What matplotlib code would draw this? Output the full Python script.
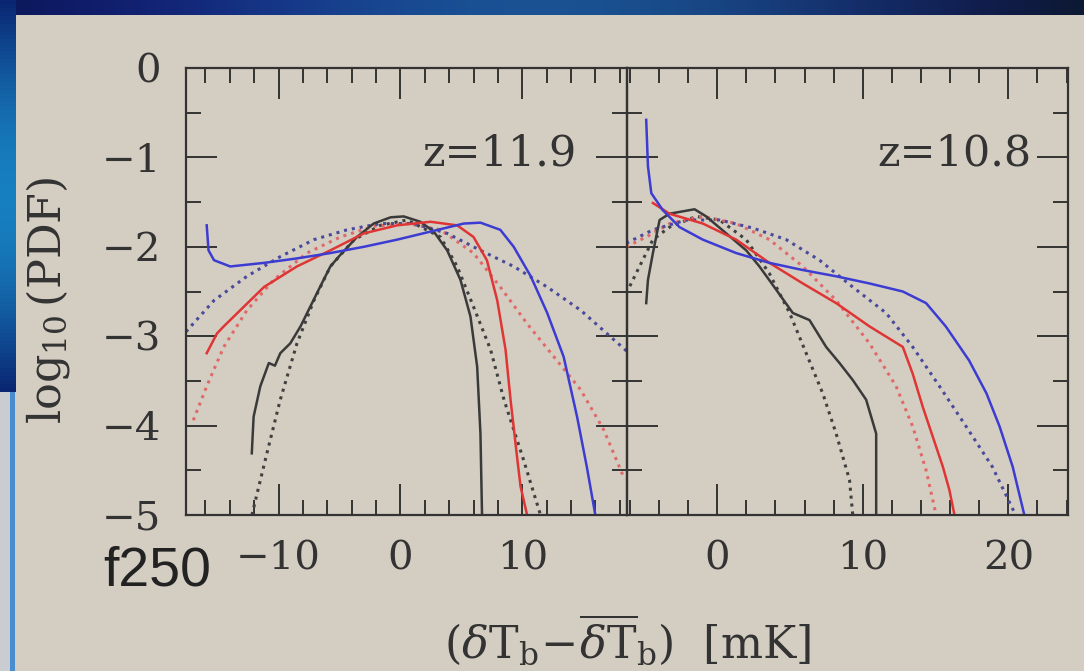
import numpy as np
import matplotlib
matplotlib.use('Agg')
import matplotlib.pyplot as plt
from matplotlib.ticker import MultipleLocator, FixedLocator

# ---- data (x in mK, y = log10 PDF) ----
# left panel, z = 11.9
l_black_x = [-12.2, -12.05, -11.5, -10.8, -10.3, -9.86, -9.04, -8.2, -7.4, -6.6, -5.75, -4.93, -3.56,
             -2.2, -0.8, 0.27, 1.64, 2.74, 3.84, 4.93, 5.75, 6.3, 6.57, 6.7]
l_black_y = [-4.31, -3.90, -3.56, -3.30, -3.33, -3.19, -3.08, -2.89, -2.67, -2.45, -2.22, -2.09, -1.89,
             -1.74, -1.67, -1.66, -1.72, -1.83, -2.04, -2.37, -2.78, -3.34, -4.09, -5.0]
l_black_dot_x = [-12.19, -10.96, -9.86, -8.49, -7.1, -5.75, -3.8, -1.64, 0.55, 3.29, 4.66, 6.0, 7.4,
                 8.5, 10.1, 11.5]
l_black_dot_y = [-5.0, -4.31, -3.71, -3.08, -2.6, -2.22, -1.92, -1.76, -1.70, -1.89, -2.22, -2.67, -3.15,
                 -3.71, -4.38, -5.0]
l_red_x = [-15.9, -15.06, -14.5, -13.15, -11.2, -8.5, -5.75, -3.0, -0.27, 2.47, 4.66, 6.0, 7.1,
           7.95, 8.63, 9.04, 9.6, 9.86, 10.4]
l_red_y = [-3.19, -2.97, -2.89, -2.71, -2.45, -2.22, -2.04, -1.85, -1.76, -1.72, -1.76, -1.89, -2.15,
           -2.60, -3.15, -3.71, -4.38, -4.68, -5.0]
l_red_dot_x = [-17.0, -15.9, -14.5, -12.6, -10.4, -7.67, -4.93, -2.19, 0.55, 3.29, 6.0, 8.2, 10.4,
               12.6, 14.8, 16.7, 18.4]
l_red_dot_y = [-3.94, -3.56, -3.12, -2.71, -2.37, -2.07, -1.89, -1.77, -1.74, -1.81, -2.07, -2.45, -2.86,
               -3.23, -3.60, -4.05, -4.6]
l_blue_x = [-15.9, -15.75, -15.3, -13.97, -11.2, -8.5, -5.75, -3.0, -0.27, 2.47, 5.2, 6.57, 8.2,
            9.3, 10.7, 12.05, 13.4, 14.5, 15.3, 16.0]
l_blue_y = [-1.76, -2.04, -2.15, -2.22, -2.18, -2.13, -2.07, -2.0, -1.92, -1.83, -1.74, -1.73, -1.81,
            -2.0, -2.33, -2.74, -3.23, -3.90, -4.46, -5.0]
l_blue_dot_x = [-17.6, -15.3, -12.6, -9.86, -7.1, -4.38, -1.64, 1.1, 3.84, 6.57, 9.3, 12.05, 14.8, 18.6]
l_blue_dot_y = [-2.95, -2.60, -2.33, -2.11, -1.92, -1.81, -1.74, -1.74, -1.85, -2.04, -2.22, -2.45,
                -2.71, -3.17]

# right panel, z = 10.8
r_black_x = [-4.88, -4.76, -4.42, -3.96, -3.28, -1.56, -0.76, 0.62, 1.99, 2.9, 4.05, 5.19, 6.34,
             7.48, 8.4, 9.31, 10.23, 10.92, 10.92]
r_black_y = [-2.63, -2.37, -2.07, -1.70, -1.63, -1.58, -1.66, -1.85, -2.04, -2.22, -2.48, -2.74, -2.82,
             -3.12, -3.30, -3.49, -3.71, -4.09, -5.0]
r_black_dot_x = [-6.25, -5.34, -4.42, -3.28, -1.44, 0.16, 1.99, 3.59, 4.97, 6.11, 7.25, 8.17, 9.09, 9.31]
r_black_dot_y = [-2.52, -2.22, -1.92, -1.78, -1.66, -1.70, -1.92, -2.30, -2.74, -3.19, -3.64, -4.09,
                 -4.61, -5.0]
r_red_x = [-4.42, -3.28, -0.99, 1.3, 3.59, 5.88, 8.17, 10.46, 12.75, 13.43, 14.12, 14.8, 15.5,
           15.95, 16.3]
r_red_y = [-1.51, -1.63, -1.74, -1.92, -2.18, -2.41, -2.63, -2.89, -3.12, -3.42, -3.79, -4.12, -4.46,
           -4.72, -5.0]
r_red_dot_x = [-6.25, -4.88, -3.28, -0.99, 1.3, 3.59, 5.88, 8.17, 10.46, 12.29, 13.43, 14.35, 15.04]
r_red_dot_y = [-2.0, -1.89, -1.74, -1.66, -1.74, -1.92, -2.22, -2.60, -3.08, -3.56, -4.01, -4.50, -5.0]
r_blue_x = [-4.88, -4.76, -4.53, -3.74, -2.59, -0.99, 1.3, 3.59, 5.88, 8.17, 10.46, 12.75, 14.35,
            15.7, 17.3, 18.5, 19.4, 20.3, 21.1]
r_blue_y = [-0.58, -1.10, -1.40, -1.59, -1.78, -1.92, -2.07, -2.18, -2.26, -2.33, -2.41, -2.50, -2.63,
            -2.89, -3.27, -3.64, -4.01, -4.46, -5.0]
r_blue_dot_x = [-6.25, -4.42, -2.13, 0.16, 2.44, 4.74, 7.03, 9.31, 11.6, 13.43, 15.27, 17.1, 18.9, 20.5]
r_blue_dot_y = [-1.96, -1.81, -1.70, -1.70, -1.79, -1.92, -2.15, -2.45, -2.74, -3.12, -3.56, -4.01,
                -4.46, -5.0]

panel_labels = ['z=11.9', 'z=10.8']
left_xticks = [-10, 0, 10]
right_xticks = [0, 10, 20]
yticks = [0, -1, -2, -3, -4, -5]

# colours
bg = '#d4cec2'
c_black = '#3a3a3a'
c_red = '#e03535'
c_blue = '#3c3cd2'
c_black_dot = '#404040'
c_red_dot = '#e06a6a'
c_blue_dot = '#4a4a9c'

W, H = 1084, 671
fig = plt.figure(figsize=(W / 100, H / 100), dpi=100)
fig.patch.set_facecolor(bg)

# slide decoration: blue top band and left strip
deco = fig.add_axes([0, 0, 1, 1], zorder=-5)
deco.set_xlim(0, W)
deco.set_ylim(H, 0)
deco.axis('off')
top = np.zeros((1, 200, 3))
tx = np.linspace(0, 1, 200)
top[0, :, 0] = 0.05 + 0.05 * np.sin(np.pi * tx)
top[0, :, 1] = 0.10 + 0.22 * np.sin(np.pi * tx) ** 2
top[0, :, 2] = 0.35 + 0.30 * np.sin(np.pi * tx) - 0.15 * tx
deco.imshow(top, extent=(0, W, 15, 0), aspect='auto')
side = np.zeros((100, 1, 3))
sy = np.linspace(0, 1, 100)
side[:, 0, 0] = 0.04 + 0.05 * np.sin(np.pi * sy)
side[:, 0, 1] = 0.15 + 0.35 * np.sin(np.pi * sy)
side[:, 0, 2] = 0.45 + 0.30 * np.sin(np.pi * sy)
deco.imshow(side, extent=(0, 16, 392, 0), aspect='auto')
deco.add_patch(plt.Rectangle((0, 392), 10, H - 392, color='#c9ccd0', lw=0))
deco.add_patch(plt.Rectangle((10, 392), 5, H - 392, color='#4a8cd0', lw=0))

plt.rcParams['mathtext.fontset'] = 'dejavuserif'

ax1 = fig.add_axes([186 / W, 1 - 515 / H, 441 / W, 447 / H])
ax2 = fig.add_axes([627 / W, 1 - 515 / H, 441 / W, 447 / H])

dot = (0, (1, 1.6))
lw = 1.8
ax1.plot(l_black_dot_x, l_black_dot_y, color=c_black_dot, ls=dot, lw=2.2)
ax1.plot(l_red_dot_x, l_red_dot_y, color=c_red_dot, ls=dot, lw=2.2)
ax1.plot(l_blue_dot_x, l_blue_dot_y, color=c_blue_dot, ls=dot, lw=2.2)
ax1.plot(l_black_x, l_black_y, color=c_black, lw=lw)
ax1.plot(l_red_x, l_red_y, color=c_red, lw=lw)
ax1.plot(l_blue_x, l_blue_y, color=c_blue, lw=lw)

ax2.plot(r_black_dot_x, r_black_dot_y, color=c_black_dot, ls=dot, lw=2.2)
ax2.plot(r_red_dot_x, r_red_dot_y, color=c_red_dot, ls=dot, lw=2.2)
ax2.plot(r_blue_dot_x, r_blue_dot_y, color=c_blue_dot, ls=dot, lw=2.2)
ax2.plot(r_black_x, r_black_y, color=c_black, lw=lw)
ax2.plot(r_red_x, r_red_y, color=c_red, lw=lw)
ax2.plot(r_blue_x, r_blue_y, color=c_blue, lw=lw)

ax1.set_xlim(-17.6, 18.6)
ax2.set_xlim(-6.2, 24.1)
ax1.xaxis.set_major_locator(FixedLocator(left_xticks))
ax2.xaxis.set_major_locator(FixedLocator(right_xticks))

for ax in [ax1, ax2]:
    ax.set_facecolor('none')
    ax.set_ylim(-5, 0)
    ax.yaxis.set_major_locator(FixedLocator(yticks))
    ax.yaxis.set_minor_locator(MultipleLocator(0.5))
    ax.xaxis.set_minor_locator(MultipleLocator(2))
    ax.tick_params(which='both', direction='in', top=True, right=True, color='#333333', width=1.4)
    ax.tick_params(which='major', length=22, pad=18, labelcolor='#333333')
    ax.tick_params(which='minor', length=11)
    for s in ax.spines.values():
        s.set_color('#333333')
        s.set_linewidth(1.6)
    for t in ax.get_xticklabels() + ax.get_yticklabels():
        t.set_fontfamily('DejaVu Serif')
        t.set_fontsize(29)
ax2.tick_params(labelleft=False)

ax1.text(0.886, 0.781, panel_labels[0], transform=ax1.transAxes, ha='right', va='baseline',
         fontfamily='DejaVu Serif', fontsize=31, color='#333333')
ax2.text(0.918, 0.781, panel_labels[1], transform=ax2.transAxes, ha='right', va='baseline',
         fontfamily='DejaVu Serif', fontsize=31, color='#333333')

fig.text(628 / W, 1 - 640 / H,
         r'$(\delta\mathrm{T}_\mathrm{b}\!-\!\overline{\delta\mathrm{T}}_\mathrm{b})\ \ [\mathrm{mK}]$',
         ha='center', va='center', fontsize=32, color='#333333')
fig.text(48 / W, 1 - 300 / H, r'$\log_{10}(\mathrm{PDF})$', rotation=90,
         ha='center', va='center', fontsize=32, color='#333333')
fig.text(103 / W, 1 - 585 / H, 'f250', ha='left', va='baseline',
         fontfamily='Liberation Sans', fontsize=40, color='#222222')

fig.savefig('out.png', dpi=100, facecolor=bg)
